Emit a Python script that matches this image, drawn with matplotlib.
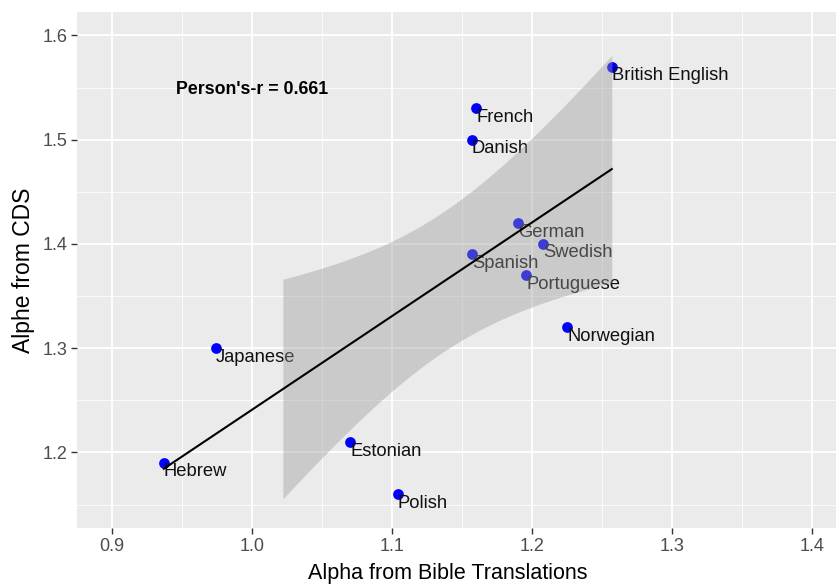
import numpy as np
import matplotlib
matplotlib.use("Agg")
import matplotlib.pyplot as plt
from matplotlib.ticker import MultipleLocator

# ---- data ----
languages = ["British English", "French", "Danish", "German", "Swedish", "Spanish",
             "Portuguese", "Norwegian", "Japanese", "Hebrew", "Estonian", "Polish"]
alpha_bible = [1.257, 1.160, 1.157, 1.190, 1.208, 1.157, 1.196, 1.225, 0.974, 0.937, 1.070, 1.104]
alpha_cds = [1.570, 1.530, 1.500, 1.420, 1.400, 1.390, 1.370, 1.320, 1.300, 1.190, 1.210, 1.160]
x_ticks = [0.9, 1.0, 1.1, 1.2, 1.3, 1.4]
y_ticks = [1.2, 1.3, 1.4, 1.5, 1.6]
x_limits = (0.9, 1.4)
y_limits = (1.15, 1.6)
pearson_text = "Person's-r = 0.661"
t_crit = 2.228139  # t(0.975, df=10)

plt.rcParams["font.family"] = ["Liberation Sans", "DejaVu Sans"]

x = np.array(alpha_bible)
y = np.array(alpha_cds)
n = len(x)

fig = plt.figure(figsize=(8.36, 5.84), dpi=100)
ax = fig.add_axes([77 / 836, 56 / 584, 770 / 836, 516 / 584])

# expanded limits like ggplot (5%)
xr = x_limits[1] - x_limits[0]
yr = y_limits[1] - y_limits[0]
ax.set_xlim(x_limits[0] - 0.05 * xr, x_limits[1] + 0.05 * xr)
ax.set_ylim(y_limits[0] - 0.05 * yr, y_limits[1] + 0.05 * yr)

ax.set_facecolor("#EBEBEB")
for s in ax.spines.values():
    s.set_visible(False)
ax.set_xticks(x_ticks)
ax.set_yticks(y_ticks)
ax.set_xticklabels([f"{v:.1f}" for v in x_ticks])
ax.set_yticklabels([f"{v:.1f}" for v in y_ticks])
ax.xaxis.set_minor_locator(MultipleLocator(0.05))
ax.yaxis.set_minor_locator(MultipleLocator(0.05))
ax.grid(which="major", color="white", linewidth=1.3)
ax.grid(which="minor", color="white", linewidth=0.6)
ax.set_axisbelow(True)
ax.tick_params(which="major", length=4, width=1, color="#333333",
               labelsize=13, labelcolor="#4D4D4D", pad=3)
ax.tick_params(which="minor", length=0)

# points and labels
ax.scatter(x, y, s=60, color="#0000FF", zorder=3, linewidths=0)
for lab, xi, yi in zip(languages, x, y):
    ax.annotate(lab, (xi, yi), xytext=(0, -6.5), textcoords="offset points",
                ha="left", va="center", fontsize=13.2, color="#111111", zorder=3)

# regression fit with 95% CI (ribbon dropped where outside y limits)
slope, intercept = np.polyfit(x, y, 1)
xg = np.linspace(x.min(), x.max(), 80)
yg = intercept + slope * xg
resid = y - (intercept + slope * x)
s_err = np.sqrt(np.sum(resid ** 2) / (n - 2))
sxx = np.sum((x - x.mean()) ** 2)
se = s_err * np.sqrt(1.0 / n + (xg - x.mean()) ** 2 / sxx)
lo = yg - t_crit * se
hi = yg + t_crit * se
keep = (lo >= y_limits[0]) & (hi <= y_limits[1])
ax.fill_between(xg[keep], lo[keep], hi[keep], color="#999999", alpha=0.4,
                linewidth=0, zorder=4)
ax.plot(xg, yg, color="black", linewidth=1.5, zorder=5)

ax.text(1.0, 1.548, pearson_text, ha="center", va="center", fontsize=12.8,
        fontweight="bold", color="black", zorder=6)

ax.set_xlabel("Alpha from Bible Translations", fontsize=15.5)
ax.xaxis.set_label_coords(0.482, -0.068)
ax.set_ylabel("Alphe from CDS", fontsize=16.5, labelpad=5)

fig.savefig("out.png", dpi=100)
